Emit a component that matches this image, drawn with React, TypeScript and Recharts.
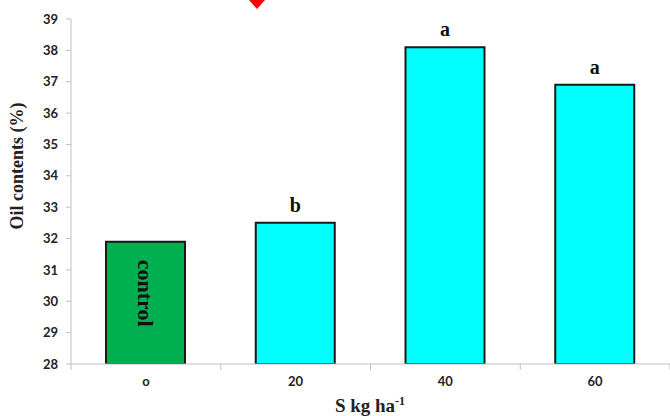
import { Bar, BarChart, Cell, LabelList, XAxis, YAxis } from "recharts";

// valores
const doses = ["o", "20", "40", "60"];
const oilContent = [31.9, 32.5, 38.1, 36.9];
const letters = ["", "b", "a", "a"];
const notes = ["control", "", "", ""];
const barColors = ["#00B050", "#00FFFF", "#00FFFF", "#00FFFF"];
const yTicks = [28, 29, 30, 31, 32, 33, 34, 35, 36, 37, 38, 39];

const data = doses.map((dose, i) => ({
  dose,
  oil: oilContent[i],
  letter: letters[i],
  note: notes[i],
}));

const AXIS_GRAY = "#bfbfbf";
const TICK_FONT = "Lato, 'Open Sans', sans-serif";
const SERIF = "'Liberation Serif', 'DejaVu Serif', serif";

// tick del eje X: etiqueta al centro y marca en el borde de cada categoria
function DoseTick(props: any) {
  const { x, y, payload, index, visibleTicksCount } = props;
  const half = payload.offset ?? 75;
  const last = index === visibleTicksCount - 1;
  return (
    <g>
      <line x1={x - half} x2={x - half} y1={y} y2={y + 6} stroke={AXIS_GRAY} />
      {last && <line x1={x + half} x2={x + half} y1={y} y2={y + 6} stroke={AXIS_GRAY} />}
      <text
        x={x}
        y={y + 22}
        textAnchor="middle"
        fill="#222"
        fontSize={13}
        fontWeight={700}
        fontFamily={TICK_FONT}
      >
        {payload.value}
      </text>
    </g>
  );
}

export default function App() {
  return (
    <div style={{ position: "absolute", left: 0, top: 0, width: 670, height: 416, background: "#fff" }}>
      <BarChart
        width={670}
        height={416}
        data={data}
        margin={{ top: 19, right: 0, bottom: 0, left: 0 }}
      >
        <XAxis
          dataKey="dose"
          height={52}
          stroke={AXIS_GRAY}
          tickLine={false}
          tickSize={0}
          tickMargin={0}
          tick={<DoseTick />}
          label={{
            content: () => (
              <text x={370} y={412} textAnchor="middle" fontFamily={SERIF} fontWeight={700} fontSize={19} fill="#222">
                S kg ha
                <tspan dy={-7} fontSize={12}>
                  -1
                </tspan>
              </text>
            ),
          }}
        />
        <YAxis
          width={71}
          domain={[28, 39]}
          ticks={yTicks}
          interval={0}
          allowDataOverflow
          stroke={AXIS_GRAY}
          tickSize={5}
          tickMargin={8}
          tick={{ fill: "#222", fontSize: 13, fontWeight: 700, fontFamily: TICK_FONT }}
          label={{
            content: () => (
              <text
                x={17}
                y={166}
                transform="rotate(-90 17 166)"
                textAnchor="middle"
                dominantBaseline="central"
                fontFamily={SERIF}
                fontWeight={700}
                fontSize={18}
                fill="#222"
              >
                Oil contents (%)
              </text>
            ),
          }}
        />
        <Bar dataKey="oil" barSize={79} stroke="#1a1a1a" strokeWidth={2} isAnimationActive={false}>
          {data.map((d, i) => (
            <Cell key={d.dose} fill={barColors[i]} />
          ))}
          <LabelList
            dataKey="letter"
            content={(p: any) =>
              p.value ? (
                <text
                  x={Number(p.x) + Number(p.width) / 2}
                  y={Number(p.y) - 11}
                  textAnchor="middle"
                  fontFamily={SERIF}
                  fontWeight={700}
                  fontSize={20}
                  fill="#111"
                >
                  {p.value}
                </text>
              ) : null
            }
          />
          <LabelList
            dataKey="note"
            content={(p: any) => {
              if (!p.value) return null;
              const cx = Number(p.x) + Number(p.width) / 2;
              const ty = Number(p.y) + 18;
              return (
                <text
                  x={cx}
                  y={ty}
                  transform={`rotate(90 ${cx} ${ty})`}
                  textAnchor="start"
                  dominantBaseline="central"
                  fontFamily={SERIF}
                  fontWeight={700}
                  fontSize={22}
                  fill="#111"
                >
                  {p.value}
                </text>
              );
            }}
          />
        </Bar>
      </BarChart>
      {/* pequeño recorte rojo en el borde superior */}
      <svg width={670} height={416} style={{ position: "absolute", left: 0, top: 0, pointerEvents: "none" }}>
        <polygon points="249,0 265,0 257,9" fill="#ff0000" />
      </svg>
    </div>
  );
}
